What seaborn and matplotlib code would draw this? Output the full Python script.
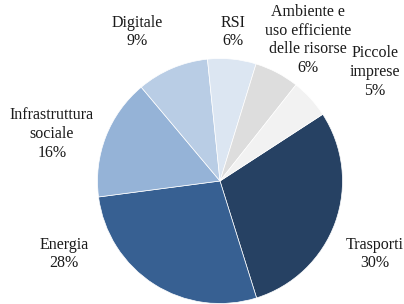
import matplotlib
matplotlib.use("Agg")
import matplotlib.pyplot as plt
import seaborn as sns

sns.set_theme(style="white")
plt.rcParams['font.family'] = ['Liberation Serif', 'DejaVu Serif']

categories = ["Trasporti", "Energia", "Infrastruttura\nsociale", "Digitale", "RSI",
              "Ambiente e\nuso efficiente\ndelle risorse", "Piccole\nimprese"]
values = [29.4, 27.8, 16.0, 9.5, 6.4, 5.9, 5.2]
pct_labels = ["30%", "28%", "16%", "9%", "6%", "6%", "5%"]
colors = ["#264163", "#376092", "#95B3D7", "#B9CDE5", "#DCE6F2", "#DDDDDD", "#F2F2F2"]
# label centres in pixel coordinates of the 404x304 image
label_px = [(375, 254), (64, 254), (52, 134), (137, 32), (233, 32), (308, 40), (375, 72)]

W, H = 404, 304
cx, cy, r = 220, 181, 122.5

fig = plt.figure(figsize=(W / 100, H / 100), dpi=100)
ax = fig.add_axes([0, 0, 1, 1])
ax.pie(values, colors=colors, startangle=33, counterclock=False, radius=1,
       wedgeprops=dict(edgecolor="white", linewidth=0.5))
ax.set_xlim(-cx / r, (W - cx) / r)
ax.set_ylim(-(H - cy) / r, cy / r)
ax.set_aspect("equal")
ax.axis("off")

for cat, pct, (px, py) in zip(categories, pct_labels, label_px):
    ax.text((px - cx) / r, (cy - py) / r, f"{cat}\n{pct}", ha="center", va="center",
            fontsize=11.5, color="#1a1a1a", linespacing=1.22)

fig.savefig("out.png", dpi=100)
